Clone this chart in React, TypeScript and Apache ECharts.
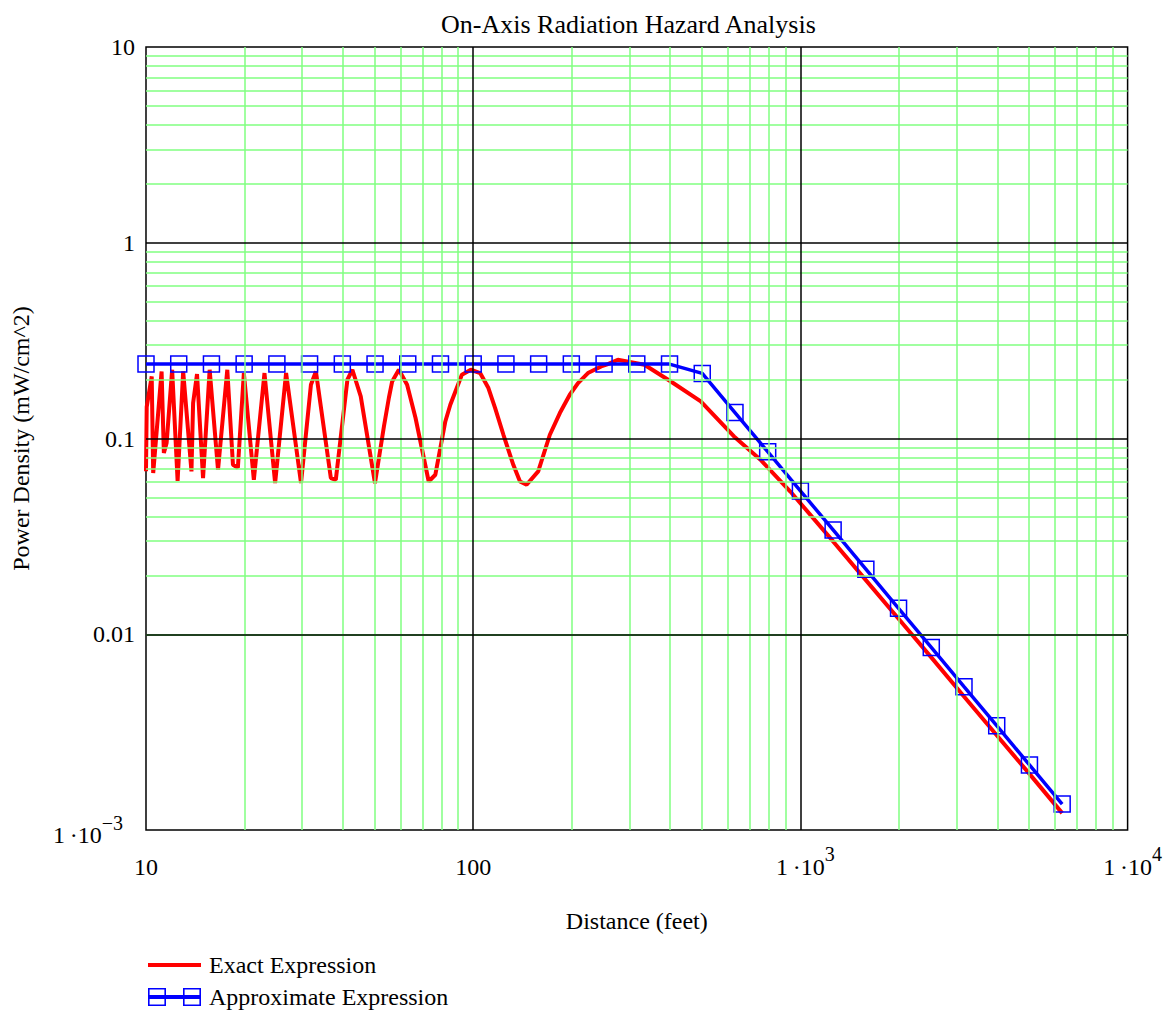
import React, { useEffect, useRef } from 'react';
import * as echarts from 'echarts';

const FONT = '"Liberation Serif", "Times New Roman", Times, serif';

// Exact expression (feet, mW/cm^2)
const exactDistance = [
  10, 10.05, 10.41, 10.52, 11.16, 11.34, 11.56, 12.02, 12.49, 12.99, 13.77, 13.93, 14.32, 14.94,
  15.65, 16.6, 17.72, 18.44, 19.09, 19.91, 21.36, 23.02, 24.81, 26.8, 29.77, 31.92, 33.06, 36.72,
  38.03, 41.26, 42.73, 45.32, 50.09, 53.35, 55.25, 56.54, 59.26, 62.81, 66.62, 73.11, 76.62, 82.19,
  85.12, 92.33, 98.33, 105, 111.3, 116.7, 123.7, 132.6, 139, 145.6, 158, 171.5, 184, 197.3, 209.1,
  224.2, 246.1, 258, 276.7, 333.6, 401.9, 496, 626.8, 755.1, 931.7, 1000, 1259, 1585, 1995, 2512,
  3162, 3981, 5012, 6310,
];
const exactDensity = [
  0.068, 0.145, 0.2075, 0.0666, 0.22, 0.0843, 0.0948, 0.2245, 0.0608, 0.22, 0.0679, 0.1517, 0.2134,
  0.0628, 0.2245, 0.0692, 0.2245, 0.0734, 0.0709, 0.2159, 0.0615, 0.2159, 0.0592, 0.2159, 0.0592,
  0.1882, 0.22, 0.0628, 0.0615, 0.1996, 0.2245, 0.164, 0.0592, 0.1152, 0.1615, 0.1956, 0.2245,
  0.1882, 0.1276, 0.0603, 0.0653, 0.1222, 0.1487, 0.2117, 0.2245, 0.2159, 0.181, 0.1431, 0.1045,
  0.0734, 0.0603, 0.058, 0.0679, 0.1045, 0.1349, 0.1673, 0.192, 0.2159, 0.2334, 0.24, 0.2525, 0.238,
  0.1956, 0.1546, 0.1024, 0.0779, 0.0536, 0.0467, 0.0298, 0.0189, 0.012, 0.00762, 0.00481, 0.00305,
  0.001935, 0.00122,
];

// Approximate expression
const approxDistance = [
  10, 12.59, 15.85, 19.95, 25.12, 31.62, 39.81, 50.12, 63.1, 79.43, 100, 125.9, 158.5, 199.5, 251.2,
  316.2, 398.1, 501.2, 631, 794.3, 1000, 1259, 1585, 1995, 2512, 3162, 3981, 5012, 6310,
];
const approxDensity = [
  0.24, 0.24, 0.24, 0.24, 0.24, 0.24, 0.24, 0.24, 0.24, 0.24, 0.24, 0.24, 0.24, 0.24, 0.24, 0.24,
  0.24, 0.215, 0.1356, 0.0856, 0.054, 0.0341, 0.0215, 0.01357, 0.00856, 0.0054, 0.00341, 0.00215,
  0.001356,
];

// Tick labels
const xTickExponents = [1, 2, 3, 4];
const xTickBase = ['10', '100', '1\u2009·10', '1\u2009·10'];
const xTickSup = ['', '', '3', '4'];
const yTickExponents = [1, 0, -1, -2, -3];
const yTickBase = ['10', '1', '0.1', '0.01', '1\u2009·10'];
const yTickSup = ['', '', '', '', '\u22123'];

// Grid lines
const xDecades = [10, 100, 1000];
const yDecades = [0.001, 0.01, 0.1, 1];
const minorMultipliers = [2, 3, 4, 5, 6, 7, 8, 9];
const xMajorInner = [100, 1000];
const yMajorInner = [0.01, 0.1, 1];

const redIcon =
  'path://M0,0L0.01,0L0.01,0.01L0,0.01Z M0,17.99L0.01,17.99L0.01,18L0,18Z M0,7L53,7L53,11L0,11Z';
const blueIcon =
  'path://M0,7L53,7L53,11L0,11Z M0,0L18,0L18,18L0,18Z M1.6,1.6L1.6,16.4L16.4,16.4L16.4,1.6Z M35,0L53,0L53,18L35,18Z M36.6,1.6L36.6,16.4L51.4,16.4L51.4,1.6Z';

function fmt(v: number, exps: number[], base: string[], sup: string[]) {
  const e = Math.round(Math.log10(v));
  const i = exps.indexOf(e);
  if (i < 0) return '';
  return sup[i] ? `{b|${base[i]}}{s|${sup[i]}}` : base[i];
}

export default function App() {
  const ref = useRef<HTMLDivElement>(null);
  useEffect(() => {
    if (!ref.current) return;
    const chart = echarts.init(ref.current, undefined, { renderer: 'svg' });
    const round = (v: number) => parseFloat(v.toPrecision(6));
    const xMinor: number[] = [];
    xDecades.forEach((d) => minorMultipliers.forEach((m) => xMinor.push(round(d * m))));
    const yMinor: number[] = [];
    yDecades.forEach((d) => minorMultipliers.forEach((m) => yMinor.push(round(d * m))));

    const option: any = {
      animation: false,
      backgroundColor: '#ffffff',
      title: {
        text: 'On-Axis Radiation Hazard Analysis',
        left: 436,
        top: 6,
        textStyle: { fontFamily: FONT, fontSize: 26, fontWeight: 'normal', color: '#000' },
      },
      grid: {
        left: 146,
        right: 33,
        top: 47,
        bottom: 182,
        show: true,
        borderColor: '#000',
        borderWidth: 1.5,
        backgroundColor: 'transparent',
      },
      legend: {
        orient: 'vertical',
        left: 148,
        top: 953,
        height: 120,
        padding: 0,
        itemWidth: 53,
        itemHeight: 18,
        itemGap: 8,
        selectedMode: false,
        textStyle: { fontFamily: FONT, fontSize: 24, lineHeight: 24, color: '#000', padding: [0, 0, 0, 3] },
        data: [
          { name: 'Exact Expression', icon: redIcon, itemStyle: { color: '#ff0000', borderWidth: 0 } },
          { name: 'Approximate Expression', icon: blueIcon, itemStyle: { color: '#0000ff', borderWidth: 0 } },
        ],
      },
      xAxis: {
        type: 'log',
        logBase: 10,
        min: 10,
        max: 10000,
        splitNumber: 3,
        name: 'Distance (feet)',
        nameLocation: 'middle',
        nameGap: 79,
        nameTextStyle: { fontFamily: FONT, fontSize: 24, color: '#000' },
        axisLine: { show: false },
        axisTick: { show: false },
        splitLine: { show: false },
        minorTick: { show: false },
        axisLabel: {
          showMinLabel: true,
          showMaxLabel: true,
          margin: 37,
          verticalAlign: 'middle',
          fontFamily: FONT,
          fontSize: 24,
          color: '#000',
          formatter: (v: number) => fmt(v, xTickExponents, xTickBase, xTickSup),
          rich: {
            b: { fontFamily: FONT, fontSize: 24, color: '#000', padding: [11, 0, 11, 10] },
            s: { fontFamily: FONT, fontSize: 20, color: '#000', verticalAlign: 'top' },
          },
        },
      },
      yAxis: {
        type: 'log',
        logBase: 10,
        min: 0.001,
        max: 10,
        splitNumber: 4,
        name: 'Power Density (mW/cm^2)',
        nameLocation: 'middle',
        nameRotate: 90,
        nameGap: 113,
        nameTextStyle: { fontFamily: FONT, fontSize: 24, color: '#000' },
        axisLine: { show: false },
        axisTick: { show: false },
        splitLine: { show: false },
        minorTick: { show: false },
        axisLabel: {
          showMinLabel: true,
          showMaxLabel: true,
          margin: 11,
          fontFamily: FONT,
          fontSize: 24,
          color: '#000',
          formatter: (v: number) => fmt(v, yTickExponents, yTickBase, yTickSup),
          rich: {
            b: { fontFamily: FONT, fontSize: 24, color: '#000', padding: [10, 0, 0, 0] },
            s: { fontFamily: FONT, fontSize: 20, color: '#000', verticalAlign: 'top', padding: [0, 12, 0, 0] },
          },
        },
      },
      series: [
        {
          name: 'minor-grid',
          type: 'line',
          data: [[10, 1]],
          symbol: 'none',
          lineStyle: { width: 0 },
          silent: true,
          z: 1,
          markLine: {
            silent: true,
            symbol: ['none', 'none'],
            label: { show: false },
            emphasis: { disabled: true },
            lineStyle: { color: '#80ff80', width: 1.5, type: 'solid' },
            data: [...xMinor.map((v) => ({ xAxis: v })), ...yMinor.map((v) => ({ yAxis: v }))],
          },
        },
        {
          name: 'major-grid',
          type: 'line',
          data: [[10, 1]],
          symbol: 'none',
          lineStyle: { width: 0 },
          silent: true,
          z: 1.5,
          markLine: {
            silent: true,
            symbol: ['none', 'none'],
            label: { show: false },
            emphasis: { disabled: true },
            lineStyle: { color: '#000000', width: 1.5, type: 'solid' },
            data: [...xMajorInner.map((v) => ({ xAxis: v })), ...yMajorInner.map((v) => ({ yAxis: v }))],
          },
        },
        {
          name: 'Exact Expression',
          type: 'line',
          data: exactDistance.map((x, i) => [x, exactDensity[i]]),
          symbol: 'none',
          showSymbol: false,
          lineStyle: { color: '#ff0000', width: 4 },
          itemStyle: { color: '#ff0000' },
          silent: true,
          z: 3,
        },
        {
          name: 'Approximate Expression',
          type: 'line',
          data: approxDistance.map((x, i) => [x, approxDensity[i]]),
          symbol: 'rect',
          symbolSize: 16,
          itemStyle: { color: 'transparent', borderColor: '#0000ff', borderWidth: 1.5 },
          lineStyle: { color: '#0000ff', width: 3.5 },
          silent: true,
          z: 4,
        },
      ],
    };
    chart.setOption(option);
    return () => chart.dispose();
  }, []);
  return (
    <div
      ref={ref}
      style={{ position: 'fixed', left: 0, top: 0, width: 1165, height: 1012, background: '#fff' }}
    />
  );
}
